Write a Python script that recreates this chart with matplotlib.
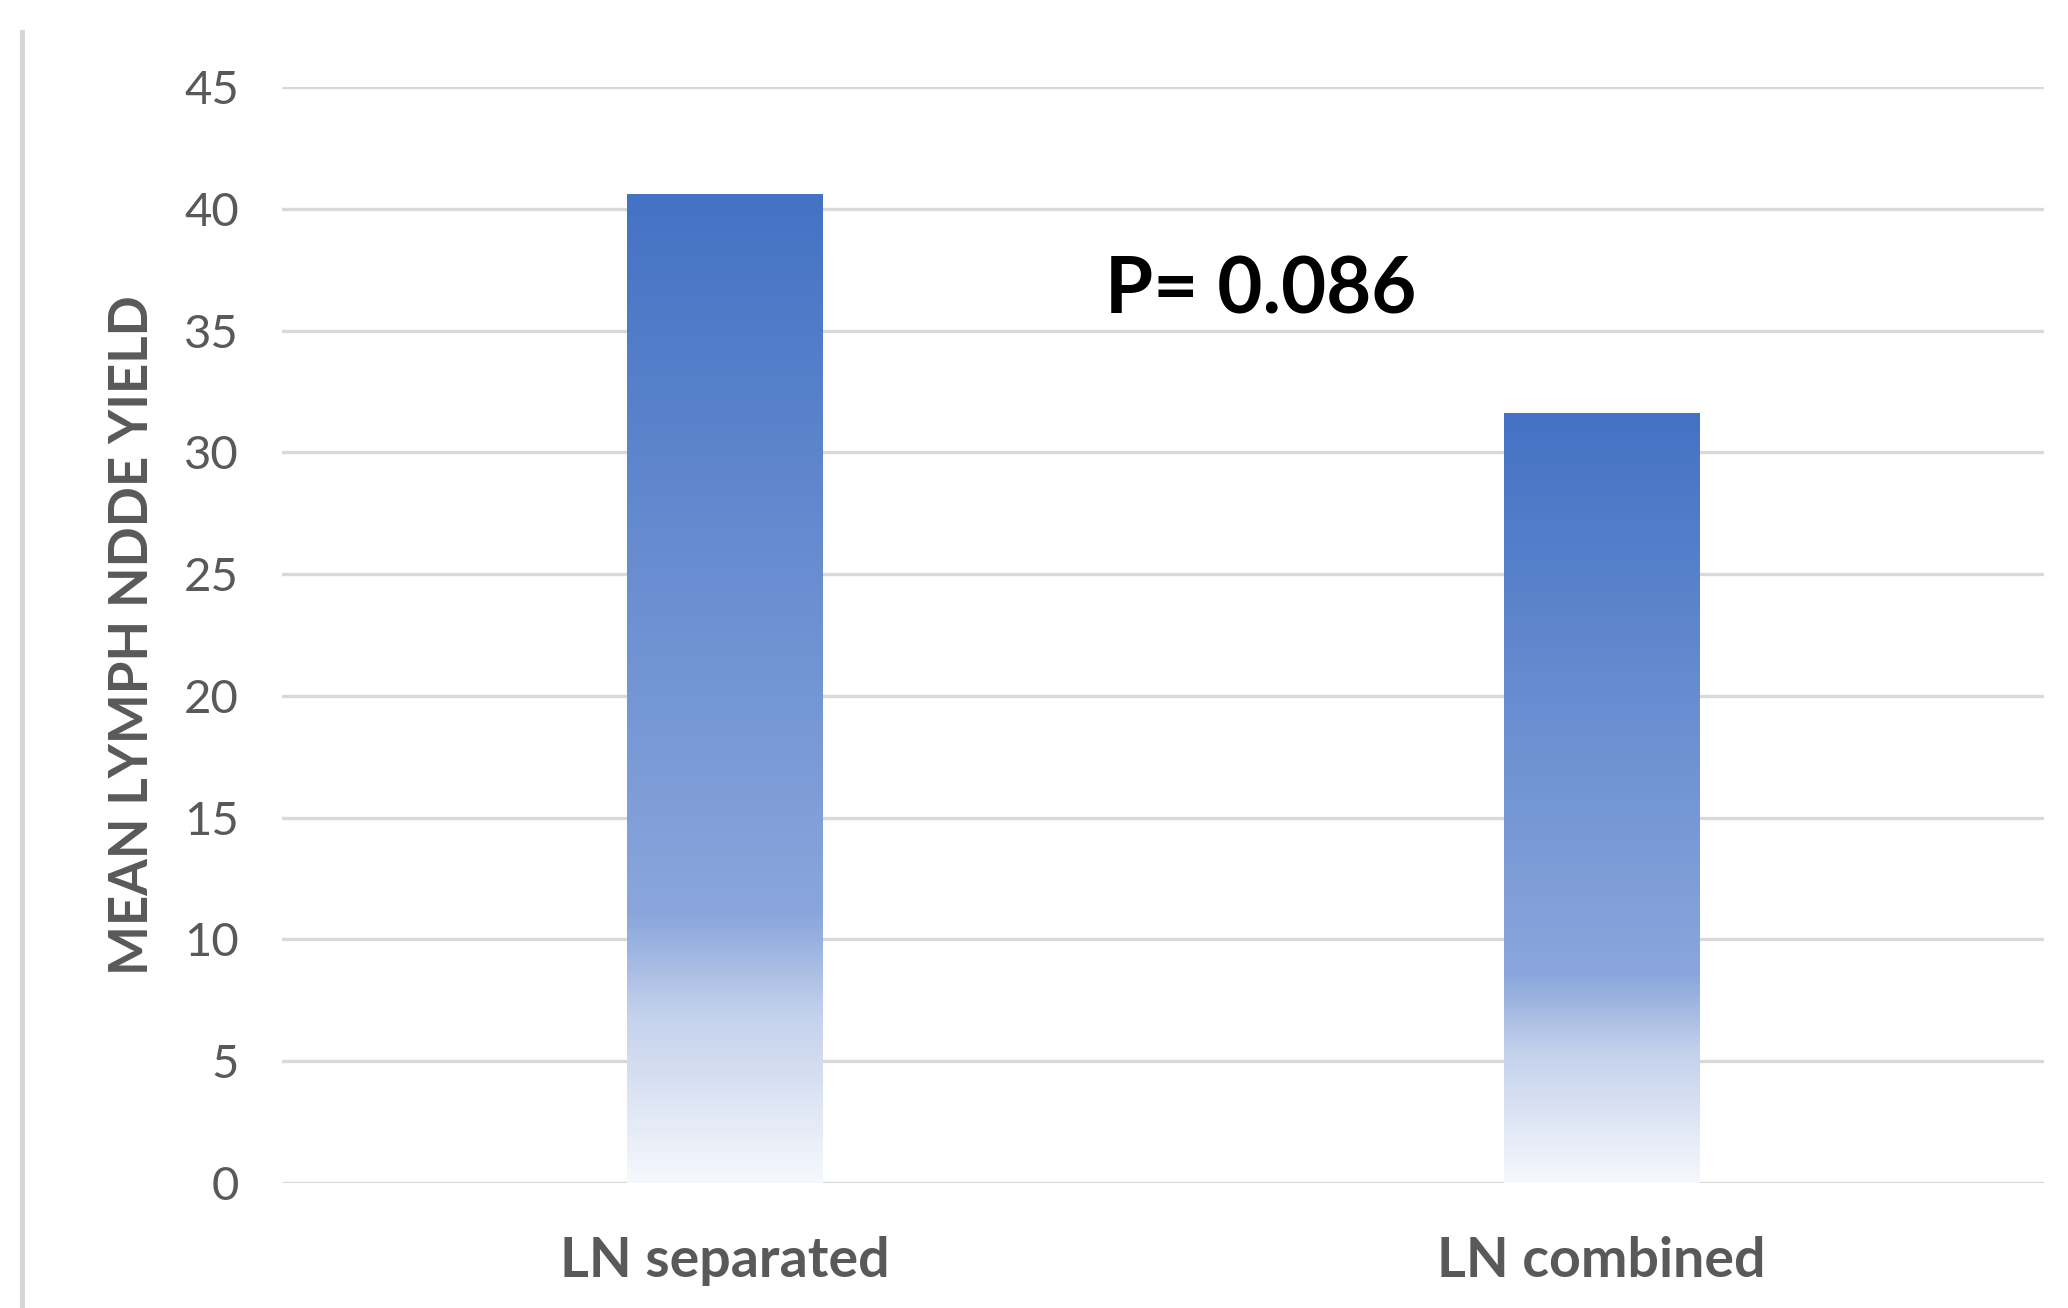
import numpy as np
import matplotlib.pyplot as plt
from matplotlib.colors import LinearSegmentedColormap
from matplotlib.lines import Line2D

# datos
categorias = ['LN separated', 'LN combined']
valores = [40.6, 31.6]
ticks_y = [0, 5, 10, 15, 20, 25, 30, 35, 40, 45]
texto_p = 'P= 0.086'
etiqueta_y = 'MEAN LYMPH NDDE YIELD'

plt.rcParams['font.family'] = ['Lato', 'DejaVu Sans']

gris = '#595959'
degradado = LinearSegmentedColormap.from_list(
    'barra', [(0.0, '#f6f8fc'), (0.17, '#c3d1ec'), (0.27, '#8aa6dc'), (1.0, '#4472c4')])

fig = plt.figure(figsize=(20.68, 13.08), dpi=100)
ax = fig.add_axes([282 / 2068, 1 - 1183 / 1308, (2044 - 282) / 2068, (1183 - 87) / 1308])

x = np.arange(len(categorias))
barras = ax.bar(x, valores, width=0.223, color='none', edgecolor='none', zorder=3)

# relleno en degradado, de blanco abajo a azul arriba
grad = np.linspace(0, 1, 256).reshape(-1, 1)
for b in barras:
    x0, y0 = b.get_x(), b.get_y()
    ax.imshow(grad, cmap=degradado, origin='lower', aspect='auto',
              extent=(x0, x0 + b.get_width(), y0, y0 + b.get_height()), zorder=3)

ax.set_xlim(-0.505, 1.505)
ax.set_ylim(0, 45)
ax.set_yticks(ticks_y)
ax.set_xticks(x)
ax.set_xticklabels(categorias, fontsize=40, fontweight='bold', color=gris)
ax.tick_params(axis='y', labelsize=34, labelcolor=gris, length=0, pad=31)
ax.tick_params(axis='x', length=0, pad=38)

ax.grid(axis='y', color='#d9d9d9', linewidth=2.4, zorder=0)
ax.set_axisbelow(True)
for s in ax.spines.values():
    s.set_visible(False)

ax.set_ylabel(etiqueta_y, fontsize=38, fontweight='bold', color=gris)
ax.yaxis.set_label_coords((157 - 282) / (2044 - 282), 0.5)

ax.text(0.611, 36.6, texto_p, fontsize=56, fontweight='bold', color='black',
        ha='center', va='center')

# linea vertical gris a la izquierda
fig.add_artist(Line2D([22 / 2068, 22 / 2068], [0, 1 - 32 / 1308],
                      transform=fig.transFigure, color='#d6d6d6', linewidth=3.5))

fig.savefig('out.png', dpi=100)
